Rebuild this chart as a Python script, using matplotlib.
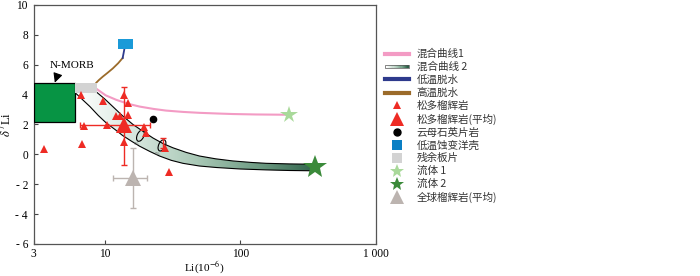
import numpy as np
import matplotlib
matplotlib.use("Agg")
import matplotlib.pyplot as plt
from matplotlib.patches import Rectangle, Polygon
from matplotlib.lines import Line2D
from matplotlib.legend_handler import HandlerBase
from matplotlib.path import Path
from matplotlib.transforms import Affine2D
from matplotlib.colors import LinearSegmentedColormap

plt.rcParams['font.family'] = ['Liberation Serif', 'Noto Sans CJK SC']
plt.rcParams['mathtext.fontset'] = 'stix'

# ---- data ----
# 松多榴辉岩 (small red triangles)
sd_li = [3.6, 6.7, 7.0, 6.8, 9.7, 10.4, 12.2, 13.1, 13.9, 14.9, 14.8, 14.0, 19.4, 20.3, 27.7, 29.7]
sd_d7 = [0.35, 4.0, 1.9, 0.7, 3.55, 1.95, 2.55, 2.55, 3.95, 3.45, 2.65, 0.8, 1.8, 1.45, 0.4, -1.15]

# 松多榴辉岩(平均)
avg_li, avg_d7 = 14.0, 1.95
avg_li_err = [[14.0 - 6.6], [21.8 - 14.0]]
avg_d7_err = [[1.95 + 0.7], [4.5 - 1.95]]

# small error bar on one sample
err_li, err_d7, err_d7_e = 27.0, 0.75, 0.35

# 云母石英片岩
mica_li, mica_d7 = [22.7], [2.4]

# 全球榴辉岩(平均)
glob_li, glob_d7 = 16.2, -1.6
glob_li_err = [[16.2 - 11.6], [20.6 - 16.2]]
glob_d7_err = [[-1.6 + 3.6], [0.45 + 1.6]]

# fluids
fluid1_li, fluid1_d7 = [228], [2.65]
fluid2_li, fluid2_d7 = [353], [-0.85]

# boxes: (li_min, li_max, d7_min, d7_max)
morb_box = (3.0, 6.1, 2.15, 4.78)
slab_box = (6.1, 8.8, 4.12, 4.78)
aoc_box = (12.5, 16.2, 7.05, 7.75)

# mixing curve 1
mix1_li = [8.8, 10.2, 12.2, 15.0, 18.1, 23.0, 28.4, 38.0, 50, 70, 88, 130, 228]
mix1_d7 = [4.36, 3.95, 3.65, 3.38, 3.2, 3.04, 2.93, 2.84, 2.78, 2.73, 2.7, 2.67, 2.65]

# mixing curve 2 band edges
mix2_up_li = [8.8, 10.0, 11.5, 13.5, 16.2, 19.5, 22.7, 27.0, 31.9, 40, 50, 66, 88, 120, 155, 230, 344]
mix2_up_d7 = [4.14, 3.72, 3.2, 2.6, 2.0, 1.5, 1.1, 0.72, 0.44, 0.13, -0.11, -0.3, -0.44, -0.54, -0.6, -0.64, -0.66]
mix2_lo_li = [6.2, 7.0, 7.8, 9.0, 10.3, 12.0, 13.6, 15.8, 18.1, 21.5, 25.4, 31.0, 37.8, 50, 66.6, 100, 155, 230, 344]
mix2_lo_d7 = [4.05, 3.6, 3.2, 2.6, 2.1, 1.65, 1.26, 0.88, 0.55, 0.2, -0.11, -0.4, -0.6, -0.78, -0.88, -0.98, -1.04, -1.08, -1.1]

# dehydration paths
low_li = [14.0, 13.8, 13.6]
low_d7 = [7.05, 6.75, 6.45]
high_li = [13.6, 12.6, 11.5, 10.5, 9.7, 9.1, 8.7]
high_d7 = [6.45, 6.1, 5.75, 5.45, 5.2, 4.98, 4.8]

# 5% marks on curve 2
mark_li = [18.4, 26.5]
mark_d7 = [1.25, 0.6]

# ---- figure ----
fig = plt.figure(figsize=(7.0, 2.76), dpi=100)
ax = fig.add_axes([0.048, 0.116, 0.489, 0.866])
ax.set_xscale('log')
ax.set_xlim(3, 1000)
ax.set_ylim(-6, 10)

pink = '#f39bc4'
brown = '#9b6b2a'
navy = '#2e3a8c'
red = '#ee2b24'
grey_tri = '#bcb4b0'

# gradient band (gradient runs left to right in screen space)
cmap = LinearSegmentedColormap.from_list('band', ['#ffffff', '#d6e6dd', '#a9c8b6', '#6f9c84', '#2c6048'])
band_xy = list(zip(mix2_up_li, mix2_up_d7)) + list(zip(mix2_lo_li[::-1], mix2_lo_d7[::-1]))
band = Polygon(band_xy, closed=True, facecolor='none', edgecolor='none')
ax.add_patch(band)
grad = np.linspace(0, 1, 256).reshape(1, -1)
im = ax.imshow(grad, cmap=cmap, aspect='auto', extent=(0.12, 0.83, 0.3, 0.65), zorder=1,
               interpolation='bilinear', transform=ax.transAxes)
im.set_clip_path(band)
ax.set_xlim(3, 1000)
ax.set_ylim(-6, 10)
ax.plot(mix2_up_li, mix2_up_d7, color='k', lw=0.8, zorder=2)
ax.plot(mix2_lo_li, mix2_lo_d7, color='k', lw=0.8, zorder=2)

ax.plot(mix1_li, mix1_d7, color=pink, lw=1.5, zorder=2)
ax.plot(high_li, high_d7, color=brown, lw=1.3, zorder=2)
ax.plot(low_li, low_d7, color=navy, lw=1.3, zorder=2)

# boxes
ax.add_patch(Rectangle((morb_box[0], morb_box[2]), morb_box[1] - morb_box[0], morb_box[3] - morb_box[2],
                       facecolor='#079444', edgecolor='k', lw=0.9, zorder=3))
ax.add_patch(Rectangle((slab_box[0], slab_box[2]), slab_box[1] - slab_box[0], slab_box[3] - slab_box[2],
                       facecolor='#d3d3d3', edgecolor='none', zorder=3))
ax.add_patch(Rectangle((aoc_box[0], aoc_box[2]), aoc_box[1] - aoc_box[0], aoc_box[3] - aoc_box[2],
                       facecolor='#1a9ad8', edgecolor='none', zorder=3))

# ellipse marks
ell = Path.unit_circle().transformed(Affine2D().scale(0.55, 1.0).rotate_deg(-25))
ax.scatter(mark_li, mark_d7, marker=ell, s=70, facecolors='none', edgecolors='k', linewidths=0.8, zorder=4)
for xv, yv in zip(mark_li, mark_d7):
    ax.text(xv * 0.93, yv - 0.55, '5%', fontsize=3, color='#666666', ha='center', va='center')

# error bars
ax.errorbar(avg_li, avg_d7, xerr=avg_li_err, yerr=avg_d7_err, fmt='none', ecolor=red,
            elinewidth=1, capsize=2, zorder=4)
ax.errorbar(err_li, err_d7, yerr=err_d7_e, fmt='none', ecolor=red, elinewidth=1, capsize=2, zorder=4)
ax.errorbar(glob_li, glob_d7, xerr=glob_li_err, yerr=glob_d7_err, fmt='none', ecolor=grey_tri,
            elinewidth=1, capsize=2.5, zorder=4)

# points
ax.plot(sd_li, sd_d7, '^', color=red, ms=5.5, mew=0, zorder=5, ls='none')
ax.plot([avg_li], [avg_d7], '^', color=red, ms=11, mew=0, zorder=5)
ax.plot(mica_li, mica_d7, 'o', color='k', ms=4.5, zorder=5)
ax.plot([glob_li], [glob_d7], '^', color=grey_tri, ms=11, mew=0, zorder=5)
ax.plot(fluid1_li, fluid1_d7, '*', color='#a9d99a', ms=13, mew=0, zorder=5)
ax.plot(fluid2_li, fluid2_d7, '*', color='#3b8a3a', ms=18, mew=0, zorder=5)

ax.annotate('N-MORB', xy=(4.3, 4.8), xytext=(5.8, 5.95), fontsize=8, ha='center', va='center',
            arrowprops=dict(arrowstyle='-|>', color='k', lw=0.8, mutation_scale=14,
                            connectionstyle='arc3,rad=0.25', shrinkA=4, shrinkB=0), zorder=6)

# axes style
ax.set_xticks([3, 10, 100, 1000])
ax.set_xticklabels(['3', '10', '100', '1 000'])
ax.xaxis.set_minor_locator(matplotlib.ticker.NullLocator())
yt = [-6, -4, -2, 0, 2, 4, 6, 8, 10]
ax.set_yticks(yt)
ax.set_yticklabels([('- %d' % -v) if v < 0 else str(v) for v in yt])
ax.tick_params(direction='in', length=3, width=0.8, labelsize=8.3, color='#444444', pad=4)
ax.tick_params(axis='x', pad=3)
for s in ax.spines.values():
    s.set_color('#555555')
    s.set_linewidth(0.9)
ax.set_xlabel('Li(10$^{-6}$)', fontsize=8.2, labelpad=0)
ax.set_ylabel(r'$\delta^7$Li', fontsize=9, labelpad=1)


# legend
class GradHandler(HandlerBase):
    def create_artists(self, legend, orig_handle, xd, yd, width, height, fontsize, trans):
        arts = []
        n = 20
        h = height * 0.45
        y0 = yd + (height - h) / 2
        for i in range(n):
            arts.append(Rectangle((xd + width * i / n, y0), width / n + 0.3, h,
                                  facecolor=cmap(i / (n - 1)), edgecolor='none', transform=trans))
        arts.append(Rectangle((xd, y0), width, h, facecolor='none', edgecolor='#555555', lw=0.5,
                              transform=trans))
        return arts


class GradKey:
    pass


handles = [
    Line2D([], [], color=pink, lw=3),
    GradKey(),
    Line2D([], [], color=navy, lw=3),
    Line2D([], [], color=brown, lw=3),
    Line2D([], [], marker='^', color=red, ms=6, ls='none', mew=0),
    Line2D([], [], marker='^', color=red, ms=10, ls='none', mew=0),
    Line2D([], [], marker='o', color='k', ms=5, ls='none'),
    Line2D([], [], marker='s', color='#0a7fc4', ms=7, ls='none', mew=0),
    Line2D([], [], marker='s', color='#d3d3d3', ms=7, ls='none', mew=0),
    Line2D([], [], marker='*', color='#a9d99a', ms=10, ls='none', mew=0),
    Line2D([], [], marker='*', color='#3b8a3a', ms=10, ls='none', mew=0),
    Line2D([], [], marker='^', color=grey_tri, ms=10, ls='none', mew=0),
]
labels = ['混合曲线1', '混合曲线 2', '低温脱水', '高温脱水', '松多榴辉岩', '松多榴辉岩(平均)',
          '云母石英片岩', '低温蚀变洋壳', '残余板片', '流体 1', '流体 2', '全球榴辉岩(平均)']
leg = fig.legend(handles, labels, loc='upper left', bbox_to_anchor=(0.543, 0.842), frameon=False,
                 handler_map={GradKey: GradHandler()}, handlelength=2.2, handletextpad=0.75,
                 labelspacing=0.255, borderpad=0, prop={'family': ['Noto Sans CJK SC'], 'size': 7.6})
for t in leg.get_texts():
    t.set_color('#333333')

fig.savefig('out.png', dpi=100)
